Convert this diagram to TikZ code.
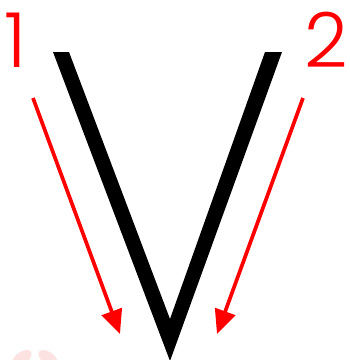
\documentclass[tikz,border=0pt]{standalone}
\usepackage{fontspec}
\IfFontExistsTF{Poppins Light}{\newfontfamily\digitfont{Poppins Light}}{\newfontfamily\digitfont{Poppins}}
\usetikzlibrary{arrows.meta}
\definecolor{vred}{RGB}{255,0,0}
\definecolor{faintpink}{RGB}{253,226,226}
\tikzset{
  digit/.style={text=vred, font=\digitfont\fontsize{76}{76}\selectfont, inner sep=0pt, anchor=base},
  redarrow/.style={draw=vred, line width=3.7pt, -{Triangle[length=24pt,width=21pt]}},
}
\begin{document}
\begin{tikzpicture}[x=1pt,y=-1pt]
\useasboundingbox (0,0) rectangle (350,360);
\fill[white] (0,0) rectangle (350,360);
% V shape
\fill[black] (53,52) -- (69,52) -- (170,319) -- (265,52) -- (282,52) -- (170,361) -- cycle;
% digits
\node[digit] (one) at (16,67) {1};
\node[digit] (two) at (326,67) {2};
% arrows
\coordinate (a1s) at (33,98);
\coordinate (a1e) at (120,334);
\coordinate (a2s) at (303,98);
\coordinate (a2e) at (217,334);
\draw[redarrow] (a1s) -- (a1e);
\draw[redarrow] (a2s) -- (a2e);
% faint mark
\begin{scope}
\clip (0,0) rectangle (350,360);
\fill[faintpink, rotate around={35:(22,358)}] (22,358) ellipse (11 and 6);
\fill[faintpink, rotate around={-35:(48,358)}] (48,358) ellipse (11 and 6);
\end{scope}
\end{tikzpicture}
\end{document}
